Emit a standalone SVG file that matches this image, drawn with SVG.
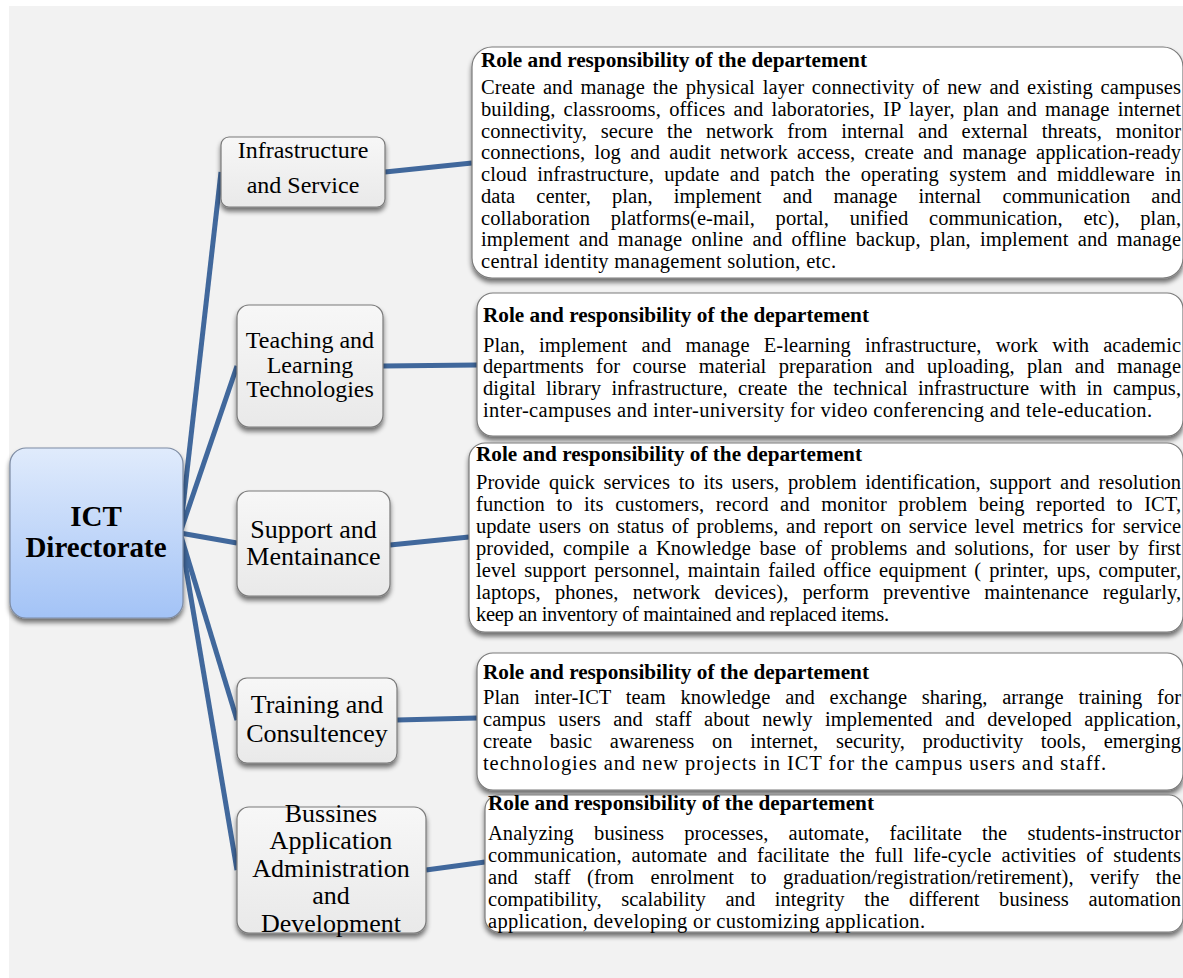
<svg xmlns="http://www.w3.org/2000/svg" width="1183" height="978" viewBox="0 0 1183 978">
<defs>
<linearGradient id="gRoot" x1="0" y1="0" x2="0" y2="1">
<stop offset="0" stop-color="#e0ebfc"/>
<stop offset="1" stop-color="#a3c3f6"/>
</linearGradient>
<linearGradient id="gDept" x1="0" y1="0" x2="0" y2="1">
<stop offset="0" stop-color="#f7f7f7"/>
<stop offset="1" stop-color="#e9e9e9"/>
</linearGradient>
<filter id="sh" x="-10%" y="-10%" width="120%" height="130%">
<feGaussianBlur in="SourceAlpha" stdDeviation="2.5"/>
<feOffset dx="0" dy="4" result="b"/>
<feComponentTransfer><feFuncA type="linear" slope="0.55"/></feComponentTransfer>
<feMerge><feMergeNode/><feMergeNode in="SourceGraphic"/></feMerge>
</filter>
</defs>
<style>
.root{fill:url(#gRoot);stroke:#7d8ba3;stroke-width:1.2}
.dept{fill:url(#gDept);stroke:#7a7a7a;stroke-width:1.2}
.desc{fill:#ffffff;stroke:#7a7a7a;stroke-width:1.2}
.conn{stroke:#41689c;stroke-width:5;fill:none;stroke-linecap:butt}
text{font-family:"Liberation Serif","Times New Roman",serif;fill:#000}
.rt{font-size:29px;font-weight:bold;text-anchor:middle}
.dt{font-size:24px;text-anchor:middle}
.dt2{font-size:26px;text-anchor:middle}
.ti{font-size:20.5px;font-weight:bold}
.bd{font-size:20.5px}
</style>
<rect x="9" y="6" width="1174" height="972" fill="#f2f2f2"/>

<g id="connectors">
<line class="conn" x1="180" y1="533" x2="221" y2="172"/>
<line class="conn" x1="180" y1="533" x2="237" y2="366"/>
<line class="conn" x1="180" y1="533" x2="237" y2="543"/>
<line class="conn" x1="180" y1="533" x2="237" y2="720"/>
<line class="conn" x1="180" y1="533" x2="237" y2="870"/>
<line class="conn" x1="385" y1="172" x2="472" y2="163"/>
<line class="conn" x1="383" y1="366" x2="477" y2="365"/>
<line class="conn" x1="390" y1="545" x2="469" y2="537"/>
<line class="conn" x1="397" y1="720" x2="477" y2="718"/>
<line class="conn" x1="426" y1="870" x2="485" y2="862"/>
</g>

<g id="root">
<rect class="root" x="10" y="448" width="173" height="170" rx="16" filter="url(#sh)"/>
<text class="rt" x="96" y="526">ICT</text>
<text class="rt" x="96" y="557">Directorate</text>
</g>

<g id="dept-infrastructure">
<rect class="dept" x="221" y="137" width="164" height="70" rx="8" filter="url(#sh)"/>
<text class="dt" x="303" y="158">Infrastructure</text>
<text class="dt" x="303" y="193">and Service</text>
</g>
<g id="dept-teaching">
<rect class="dept" x="237" y="305" width="146" height="122" rx="12" filter="url(#sh)"/>
<text class="dt" x="310" y="348">Teaching and</text>
<text class="dt" x="310" y="373">Learning</text>
<text class="dt" x="310" y="397">Technologies</text>
</g>
<g id="dept-support">
<rect class="dept" x="237" y="491" width="153" height="105" rx="12" filter="url(#sh)"/>
<text class="dt2" x="313.5" y="538">Support and</text>
<text class="dt2" x="313.5" y="565">Mentainance</text>
</g>
<g id="dept-training">
<rect class="dept" x="237" y="678" width="160" height="85" rx="10" filter="url(#sh)"/>
<text class="dt2" x="317" y="713">Training and</text>
<text class="dt2" x="317" y="742">Consultencey</text>
</g>
<g id="dept-business">
<rect class="dept" x="237" y="807" width="189" height="126" rx="12" filter="url(#sh)"/>
<text class="dt2" x="331" y="822">Bussines</text>
<text class="dt2" x="331" y="849">Application</text>
<text class="dt2" x="331" y="877">Administration</text>
<text class="dt2" x="331" y="904">and</text>
<text class="dt2" x="331" y="932">Development</text>
</g>

<g id="desc-infrastructure">
<rect class="desc" x="472" y="47" width="711" height="231" rx="20" filter="url(#sh)"/>
<text class="ti" x="481" y="67" textLength="386" lengthAdjust="spacingAndGlyphs">Role and responsibility of the departement</text>
<text class="bd" x="481" y="94" textLength="700" lengthAdjust="spacing" word-spacing="2.5">Create and manage the physical layer connectivity of new and existing campuses</text>
<text class="bd" x="481" y="115.75" textLength="700" lengthAdjust="spacing" word-spacing="3">building, classrooms, offices and laboratories, IP layer, plan and manage internet</text>
<text class="bd" x="481" y="137.5" textLength="700" lengthAdjust="spacing" word-spacing="8.5">connectivity, secure the network from internal and external threats, monitor</text>
<text class="bd" x="481" y="159.25" textLength="700" lengthAdjust="spacing" word-spacing="4">connections, log and audit network access, create and manage application-ready</text>
<text class="bd" x="481" y="181" textLength="700" lengthAdjust="spacing" word-spacing="5.2">cloud infrastructure, update and patch the operating system and middleware in</text>
<text class="bd" x="481" y="202.75" textLength="700" lengthAdjust="spacing" word-spacing="16">data center, plan, implement and manage internal communication and</text>
<text class="bd" x="481" y="224.5" textLength="700" lengthAdjust="spacing" word-spacing="15.5">collaboration platforms(e-mail, portal, unified communication, etc), plan,</text>
<text class="bd" x="481" y="246.25" textLength="700" lengthAdjust="spacing" word-spacing="4">implement and manage online and offline backup, plan, implement and manage</text>
<text class="bd" x="481" y="268" textLength="355" lengthAdjust="spacing">central identity management solution, etc.</text>
</g>

<g id="desc-teaching">
<rect class="desc" x="477" y="293" width="706" height="143" rx="16" filter="url(#sh)"/>
<text class="ti" x="483" y="322" textLength="386" lengthAdjust="spacingAndGlyphs">Role and responsibility of the departement</text>
<text class="bd" x="483" y="351.5" textLength="698" lengthAdjust="spacing" word-spacing="9">Plan, implement and manage E-learning infrastructure, work with academic</text>
<text class="bd" x="483" y="373.25" textLength="698" lengthAdjust="spacing" word-spacing="7.2">departments for course material preparation and uploading, plan and manage</text>
<text class="bd" x="483" y="395" textLength="698" lengthAdjust="spacing" word-spacing="5.2">digital library infrastructure, create the technical infrastructure with in campus,</text>
<text class="bd" x="483" y="416.75" textLength="669" lengthAdjust="spacing">inter-campuses and inter-university for video conferencing and tele-education.</text>
</g>

<g id="desc-support">
<rect class="desc" x="469" y="443" width="714" height="189" rx="16" filter="url(#sh)"/>
<text class="ti" x="476" y="461" textLength="386" lengthAdjust="spacingAndGlyphs">Role and responsibility of the departement</text>
<text class="bd" x="476" y="489" textLength="705" lengthAdjust="spacing" word-spacing="3.5">Provide quick services to its users, problem identification, support and resolution</text>
<text class="bd" x="476" y="511" textLength="705" lengthAdjust="spacing" word-spacing="6.3">function to its customers, record and monitor problem being reported to ICT,</text>
<text class="bd" x="476" y="533" textLength="705" lengthAdjust="spacing" word-spacing="2.6">update users on status of problems, and report on service level metrics for service</text>
<text class="bd" x="476" y="555" textLength="705" lengthAdjust="spacing" word-spacing="3.5">provided, compile a Knowledge base of problems and solutions, for user by first</text>
<text class="bd" x="476" y="577" textLength="705" lengthAdjust="spacing" word-spacing="2.7">level support personnel, maintain failed office equipment ( printer, ups, computer,</text>
<text class="bd" x="476" y="599" textLength="705" lengthAdjust="spacing" word-spacing="9">laptops, phones, network devices), perform preventive maintenance regularly,</text>
<text class="bd" x="476" y="621" textLength="413" lengthAdjust="spacing">keep an inventory of maintained and replaced items.</text>
</g>

<g id="desc-training">
<rect class="desc" x="477" y="653" width="706" height="137" rx="16" filter="url(#sh)"/>
<text class="ti" x="483" y="679" textLength="386" lengthAdjust="spacingAndGlyphs">Role and responsibility of the departement</text>
<text class="bd" x="483" y="704" textLength="698" lengthAdjust="spacing" word-spacing="9.6">Plan inter-ICT team knowledge and exchange sharing, arrange training for</text>
<text class="bd" x="483" y="726" textLength="698" lengthAdjust="spacing" word-spacing="7.3">campus users and staff about newly implemented and developed application,</text>
<text class="bd" x="483" y="748" textLength="698" lengthAdjust="spacing" word-spacing="12.5">create basic awareness on internet, security, productivity tools, emerging</text>
<text class="bd" x="483" y="770" textLength="623" lengthAdjust="spacing">technologies and new projects in ICT for the campus users and staff.</text>
</g>

<g id="desc-business">
<rect class="desc" x="485" y="795" width="698" height="137" rx="14" filter="url(#sh)"/>
<text class="ti" x="488" y="810" textLength="386" lengthAdjust="spacingAndGlyphs">Role and responsibility of the departement</text>
<text class="bd" x="488" y="840" textLength="693" lengthAdjust="spacing" word-spacing="15">Analyzing business processes, automate, facilitate the students-instructor</text>
<text class="bd" x="488" y="862" textLength="693" lengthAdjust="spacing" word-spacing="4.8">communication, automate and facilitate the full life-cycle activities of students</text>
<text class="bd" x="488" y="884" textLength="693" lengthAdjust="spacing" word-spacing="11.3">and staff (from enrolment to graduation/registration/retirement), verify the</text>
<text class="bd" x="488" y="906" textLength="693" lengthAdjust="spacing" word-spacing="14.5">compatibility, scalability and integrity the different business automation</text>
<text class="bd" x="488" y="928" textLength="437" lengthAdjust="spacing">application, developing or customizing application.</text>
</g>
</svg>
